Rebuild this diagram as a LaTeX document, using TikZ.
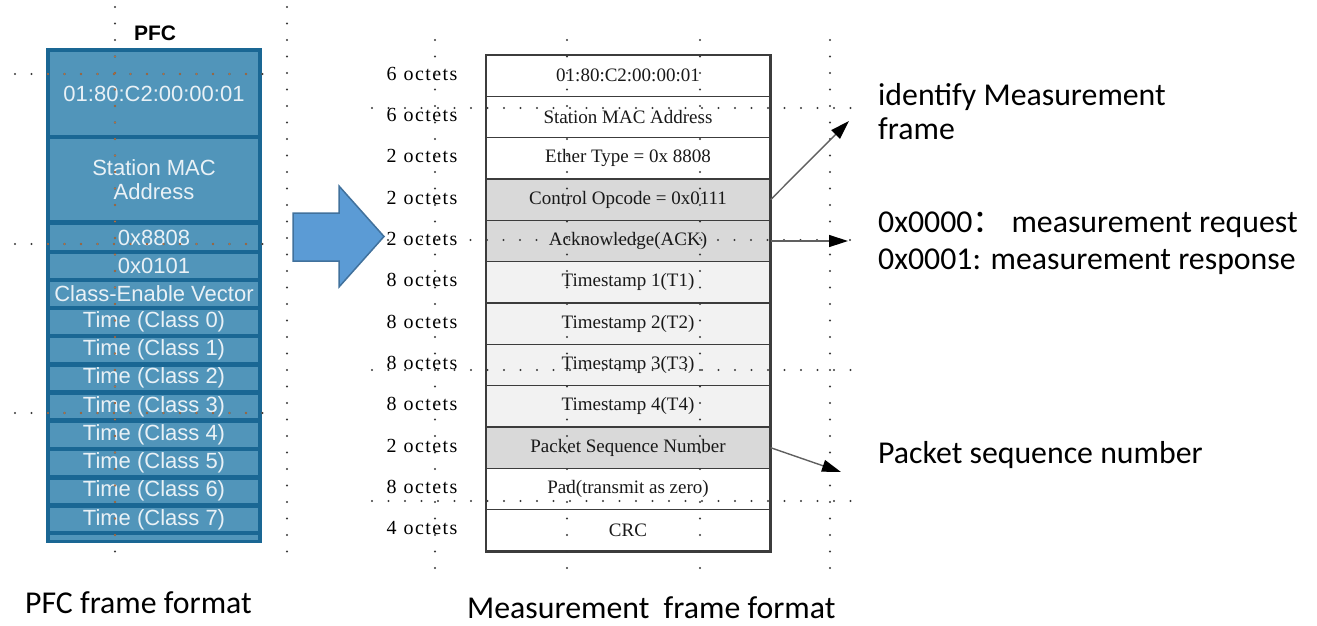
\documentclass[tikz,border=0pt]{standalone}
\usepackage{fontspec}
\setmainfont{Liberation Serif}
\newfontfamily\pfcfont{Liberation Sans}
\newfontfamily\notefont{Carlito}
\newfontfamily\cjk{Noto Sans CJK SC}
\newfontfamily\octfont{Liberation Serif}[LetterSpace=7]
\usetikzlibrary{arrows.meta}

\definecolor{pfcdark}{HTML}{1A6794}
\definecolor{pfcrow}{HTML}{5195BA}
\definecolor{pfctext}{HTML}{E9F1F6}
\definecolor{cellline}{HTML}{3C3C3C}
\definecolor{cellgray}{HTML}{D9D9D9}
\definecolor{celllight}{HTML}{F2F2F2}
\definecolor{gridgray}{HTML}{3A3A3A}
\definecolor{griddot}{HTML}{B5703F}
\definecolor{arrowfill}{HTML}{5B9BD5}
\definecolor{arrowline}{HTML}{41719C}
\definecolor{pointergray}{HTML}{606060}

\begin{document}
\begin{tikzpicture}[x=1pt,y=-1pt,
  pfcbox/.style={fill=pfcrow, draw=none, inner sep=0pt, text=pfctext,
    font=\pfcfont\fontsize{22}{24}\selectfont, minimum width=208pt, align=center},
  cell/.style={draw=cellline, line width=1.2pt, minimum width=284pt,
    minimum height=41.33pt, inner sep=0pt, font=\fontsize{19}{22}\selectfont,
    text=black!90},
  oct/.style={font=\octfont\fontsize{20}{22}\selectfont, inner sep=0pt},
  note/.style={font=\notefont\fontsize{31.8}{38}\selectfont, anchor=base west,
    inner sep=0pt, text=black},
  pointer/.style={draw=pointergray, line width=1.4pt,
    -{Triangle[length=19pt,width=12pt,color=black]}},
  dotgrid/.style={line width=2.4pt, line cap=round,
    dash pattern=on 0pt off 16.5pt}
]
\useasboundingbox (0,0) rectangle (1317,625);

% ---------- PFC frame ----------
\node[font=\pfcfont\bfseries\fontsize{21}{24}\selectfont] (pfctitle) at (155,33.5) {PFC};
\fill[pfcdark] (46,48) rectangle (262,543);
\node[pfcbox, minimum height=83pt] (p1) at (154,93.5) {01:80:C2:00:00:01};
\node[pfcbox, minimum height=81pt] (p2) at (154,179.5) {Station MAC\\[0pt]Address};
\node[pfcbox, minimum height=25pt] (p3) at (154,237.5) {0x8808};
\node[pfcbox, minimum height=24pt] (p4) at (154,266) {0x0101};
\node[pfcbox, minimum height=24pt] (p5) at (154,294) {Class-Enable Vector};
\foreach \k in {0,...,7} {
  \node[pfcbox, minimum height=23.5pt] (pt\k) at (154,{321.75+28.25*\k}) {Time (Class \k)};
}
\node[pfcbox, minimum height=5pt] (pend) at (154,537.5) {};

% ---------- Measurement frame ----------
\node[cell, fill=white]     (r1)  at (628,75.67)  {01:80:C2:00:00:01};
\node[cell, fill=white]     (r2)  at (628,117.0)  {Station MAC Address};
\node[cell, fill=white]     (r3)  at (628,158.33) {Ether Type = 0x 8808};
\node[cell, fill=cellgray]  (r4)  at (628,199.67) {Control Opcode = 0x0111};
\node[cell, fill=cellgray]  (r5)  at (628,241.0)  {Acknowledge(ACK)};
\node[cell, fill=celllight] (r6)  at (628,282.33) {Timestamp 1(T1)};
\node[cell, fill=celllight] (r7)  at (628,323.67) {Timestamp 2(T2)};
\node[cell, fill=celllight] (r8)  at (628,365.0)  {Timestamp 3(T3)};
\node[cell, fill=celllight] (r9)  at (628,406.33) {Timestamp 4(T4)};
\node[cell, fill=cellgray]  (r10) at (628,447.67) {Packet Sequence Number};
\node[cell, fill=white]     (r11) at (628,489.0)  {Pad(transmit as zero)};
\node[cell, fill=white]     (r12) at (628,530.33) {CRC};
\draw[cellline, line width=1.8pt] (r1.north west) rectangle (r12.south east);

% octet sizes
\foreach \n/\v/\y in {o1/6/73.5, o2/6/115, o3/2/156.3, o4/2/197.7, o5/2/239,
                      o6/8/280.3, o7/8/321.7, o8/8/363, o9/8/404.3, o10/2/445.7,
                      o11/8/487, o12/4/528.3} {
  \node[oct] (\n) at (422,\y) {\v\hspace{0.35em}octets};
}

% ---------- notes ----------
\node[note] (n1) at (878,105) {identify Measurement};
\node[note] (n2) at (878,139) {frame};
\node[note] (n3) at (878,232) {0x0000{\cjk：} measurement request};
\node[note] (n4) at (878,269) {0x0001: measurement response};
\node[note] (n5) at (878,463) {Packet sequence number};
\node[note] (cap1) at (25,613) {PFC frame format};
\node[note] (cap2) at (467,618) {Measurement\hspace{0.45em}frame format};

% ---------- dotted guides ----------
\begin{scope}[gridgray]
  \foreach \x in {115,287} \draw[dotgrid] (\x,7) -- (\x,566);
  \foreach \y in {74,244,413} \draw[dotgrid] (15,\y) -- (270,\y);
  \foreach \x in {435,567,700,830} \draw[dotgrid] (\x,40) -- (\x,573);
  \foreach \y in {108,370,501} \draw[dotgrid] (372,\y) -- (856,\y);
  \draw[dotgrid] (388,240) -- (856,240);
\end{scope}
\begin{scope}
  \clip (46,48) rectangle (262,543);
  \begin{scope}[griddot]
    \foreach \x in {115} \draw[dotgrid] (\x,7) -- (\x,566);
    \foreach \y in {74,244,413} \draw[dotgrid] (15,\y) -- (270,\y);
  \end{scope}
\end{scope}

% ---------- big arrow ----------
\draw[fill=arrowfill, draw=arrowline, line width=1.5pt, line join=miter]
  (293,213) -- (339,213) -- (339,186) -- (384,236.5) -- (339,287)
  -- (339,261) -- (293,261) -- cycle;

% ---------- pointers ----------
\coordinate (t1) at (849,121);
\coordinate (t2) at (848,241);
\coordinate (t3) at (841,472);
\draw[pointer] (r4.east) -- (t1);
\draw[pointer] (r5.east) -- (t2);
\draw[pointer] (r10.east) -- (t3);
\end{tikzpicture}
\end{document}
